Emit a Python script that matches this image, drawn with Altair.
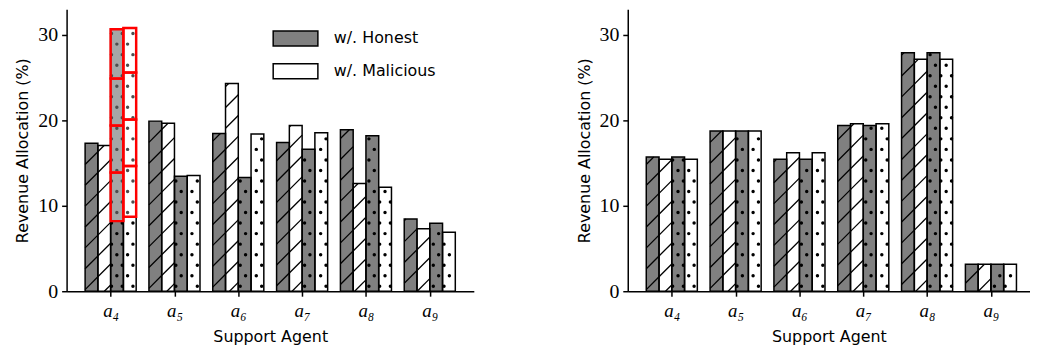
import math
import json
import altair as alt
import pandas as pd

# ---------------- data ----------------
agents = ["a₄", "a₅", "a₆", "a₇", "a₈", "a₉"]
kinds = ["w/. Honest", "w/. Malicious"]

# left panel: hatched (/) honest, hatched malicious, dotted honest, dotted malicious
left_hatch_honest = [17.3, 19.9, 18.45, 17.4, 18.9, 8.45]
left_hatch_malicious = [17.05, 19.65, 24.3, 19.4, 12.6, 7.3]
left_dot_honest = [30.65, 13.45, 13.3, 16.6, 18.2, 7.95]
left_dot_malicious = [30.8, 13.55, 18.4, 18.55, 12.15, 6.9]

# right panel
right_hatch_honest = [15.7, 18.75, 15.45, 19.4, 27.9, 3.15]
right_hatch_malicious = [15.45, 18.75, 16.2, 19.6, 27.15, 3.15]
right_dot_honest = [15.7, 18.75, 15.45, 19.4, 27.9, 3.15]
right_dot_malicious = [15.45, 18.75, 16.2, 19.6, 27.15, 3.15]

# red stacked boxes on a4 (left panel) : boundaries of the stacked segments
red_bounds_dot_honest = [8.2, 13.9, 19.4, 24.9, 30.65]
red_bounds_dot_malicious = [8.7, 14.65, 20.1, 25.6, 30.8]

y_ticks = [0, 10, 20, 30]

# ---------------- layout / style ----------------
W_L, W_R, H = 410, 405, 284
X_MIN, X_MAX_L = -0.69, 5.69
PXU = W_L / (X_MAX_L - X_MIN)
X_MAX_R = X_MIN + W_R / PXU
Y_MAX = 33
PYU = H / Y_MAX
BAR_W = 0.2
GRAY = "#808080"

HATCH_SP = 21.0      # px between '/' hatch lines
HATCH_PH = 4.0
DOT_DX, DOT_DY = 5.4, 10.6
DOT_X0, DOT_Y0 = 2.0, 5.0

SERIF = "Liberation Serif"
SANS = "DejaVu Sans"


def bars_frame(series):
    rows = []
    for j, (vals, kind, pat) in enumerate(series):
        for i, v in enumerate(vals):
            c = i + (j - 1.5) * BAR_W
            rows.append(dict(x0=c - BAR_W / 2, x1=c + BAR_W / 2, v=v, base=0.0,
                             kind=kind, pat=pat, i=i, j=j))
    return pd.DataFrame(rows)


def hatch_frame(bars):
    segs = []
    for r in bars[bars.pat == "/"].itertuples():
        u0 = (r.x0 - X_MIN) * PXU
        u1 = (r.x1 - X_MIN) * PXU
        h = r.v * PYU
        kmin = math.floor((-u1 - HATCH_PH) / HATCH_SP) - 1
        kmax = math.ceil((h - u0 - HATCH_PH) / HATCH_SP) + 1
        for k in range(kmin, kmax + 1):
            c = k * HATCH_SP + HATCH_PH
            ua = max(u0, -c)
            ub = min(u1, h - c)
            if ub - ua > 0.4:
                segs.append(dict(x=ua / PXU + X_MIN, y=(ua + c) / PYU,
                                 x2=ub / PXU + X_MIN, y2=(ub + c) / PYU))
    return pd.DataFrame(segs)


def dot_frame(bars):
    pts = []
    for r in bars[bars.pat == "."].itertuples():
        u0 = (r.x0 - X_MIN) * PXU
        u1 = (r.x1 - X_MIN) * PXU
        h = r.v * PYU
        mmin = math.ceil((u0 + 0.8 - DOT_X0) / DOT_DX)
        mmax = math.floor((u1 - 0.8 - DOT_X0) / DOT_DX)
        nmax = math.floor((h - 1.5 - DOT_Y0) / DOT_DY)
        for m in range(mmin, mmax + 1):
            for n in range(0, nmax + 1):
                if (m + n) % 2 == 0:
                    u = DOT_X0 + m * DOT_DX
                    vv = DOT_Y0 + n * DOT_DY
                    pts.append(dict(x=u / PXU + X_MIN, y=vv / PYU))
    return pd.DataFrame(pts)


def red_frame(bars):
    rows = []
    for j, bounds in ((2, red_bounds_dot_honest), (3, red_bounds_dot_malicious)):
        b = bars[(bars.i == 0) & (bars.j == j)].iloc[0]
        for lo, hi in zip(bounds[:-1], bounds[1:]):
            rows.append(dict(x0=b.x0, x1=b.x1, lo=lo, hi=hi))
    return pd.DataFrame(rows)


label_expr = "%s[datum.value]" % json.dumps(agents, ensure_ascii=False)


def panel(series, x_max, width, with_legend, with_red):
    bars = bars_frame(series)
    xs = alt.Scale(domain=[X_MIN, x_max], nice=False, zero=False)
    ys = alt.Scale(domain=[0, Y_MAX], nice=False)
    x_axis = alt.Axis(values=[0, 1, 2, 3, 4, 5], labelExpr=label_expr, title="Support Agent",
                      tickSize=5, labelPadding=5, titlePadding=9, grid=False,
                      labelFont=SERIF, labelFontStyle="italic", labelFontSize=19,
                      titleFont=SANS, titleFontSize=16, titleFontWeight="normal",
                      domainColor="black", tickColor="black", domainWidth=1.5, tickWidth=1.5,
                      labelColor="black", titleColor="black")
    y_axis = alt.Axis(values=y_ticks, title="Revenue Allocation (%)", tickSize=5,
                      labelPadding=4, titlePadding=7, grid=False,
                      labelFont=SERIF, labelFontSize=20, titleFont=SANS, titleFontSize=16,
                      titleFontWeight="normal", domainColor="black", tickColor="black",
                      domainWidth=1.5, tickWidth=1.5, labelColor="black", titleColor="black")
    if with_legend:
        legend = alt.Legend(title=None, orient="none", legendX=207, legendY=21, padding=0,
                            symbolType="M-1,-1H5V1H-1Z", symbolSize=225,
                            symbolStrokeColor="black", symbolStrokeWidth=1.5, symbolOpacity=1,
                            labelFont=SANS, labelFontSize=16, labelColor="black",
                            labelOffset=45, rowPadding=12)
    else:
        legend = None

    X = lambda f: alt.X(f, scale=xs, axis=x_axis)
    Y = lambda f: alt.Y(f, scale=ys, axis=y_axis)

    fill_layer = alt.Chart(bars).mark_rect(stroke=None).encode(
        x=X("x0:Q"), x2="x1", y=Y("v:Q"), y2="base",
        fill=alt.Fill("kind:N", scale=alt.Scale(domain=kinds, range=[GRAY, "white"]),
                      legend=legend),
    )
    hatch = alt.Chart(hatch_frame(bars)).mark_rule(color="black", strokeWidth=1.3).encode(
        x=X("x:Q"), y=Y("y:Q"), x2="x2", y2="y2")
    dots = alt.Chart(dot_frame(bars)).mark_circle(color="black", opacity=1, size=12).encode(
        x=X("x:Q"), y=Y("y:Q"))
    outline = alt.Chart(bars).mark_rect(fill=None, stroke="black", strokeWidth=1.5).encode(
        x=X("x0:Q"), x2="x1", y=Y("v:Q"), y2="base")
    layers = [fill_layer, hatch, dots, outline]
    if with_red:
        red = alt.Chart(red_frame(bars)).mark_rect(
            fill="white", fillOpacity=0.3, stroke="red", strokeWidth=2.5).encode(
            x=X("x0:Q"), x2="x1", y=Y("hi:Q"), y2="lo")
        layers.append(red)
    return alt.layer(*layers).properties(width=width, height=H)


left = panel([(left_hatch_honest, kinds[0], "/"), (left_hatch_malicious, kinds[1], "/"),
              (left_dot_honest, kinds[0], "."), (left_dot_malicious, kinds[1], ".")],
             X_MAX_L, W_L, True, True)
right = panel([(right_hatch_honest, kinds[0], "/"), (right_hatch_malicious, kinds[1], "/"),
               (right_dot_honest, kinds[0], "."), (right_dot_malicious, kinds[1], ".")],
              X_MAX_R, W_R, False, False)

chart = alt.hconcat(left, right, spacing=103).resolve_scale(
    fill="independent", x="independent", y="independent"
).properties(
    padding={"left": 7, "top": 0, "right": 0, "bottom": 0}
).configure_view(stroke=None)

chart.save("out.html", embed_options={"renderer": "svg", "actions": False})
